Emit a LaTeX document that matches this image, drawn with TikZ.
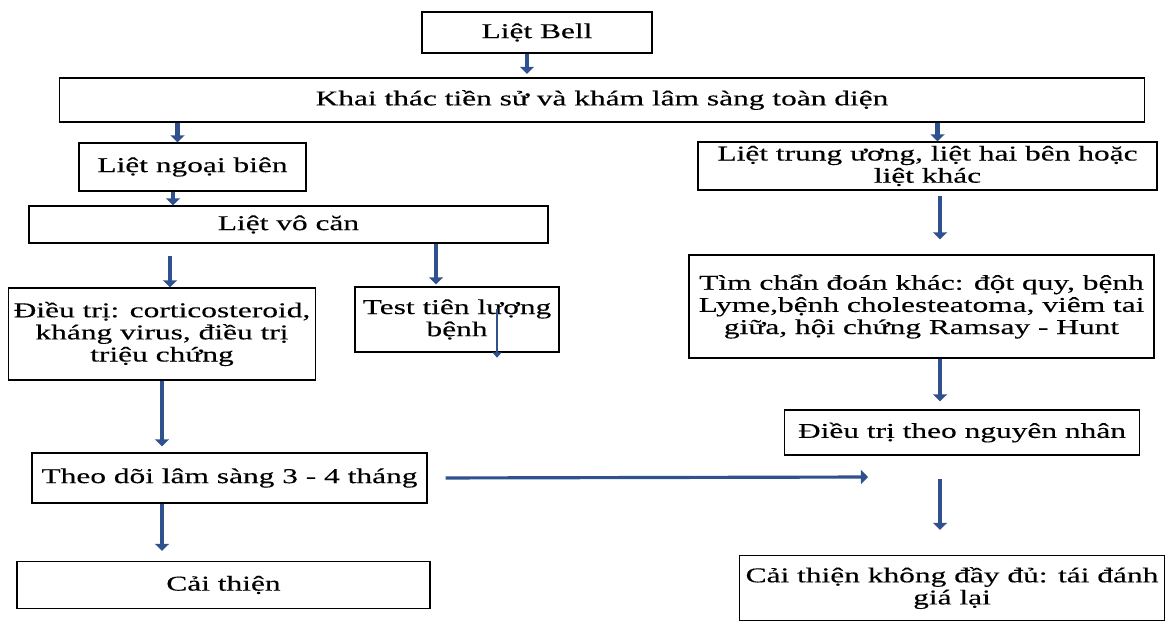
\documentclass[tikz,border=0pt]{standalone}
\usepackage{fontspec}
\setmainfont{Liberation Serif}[FakeStretch=1.49,FakeBold=0.3]
\usetikzlibrary{arrows.meta}
\definecolor{arrblue}{RGB}{47,82,143}

\begin{document}
\begin{tikzpicture}[x=0.02cm,y=-0.02cm,
	box/.style={draw,line width=0.8pt,align=center,inner sep=1pt,
		font=\fontsize{12}{12.6}\selectfont},
	arr/.style={draw=arrblue,line width=2.5pt,-{Triangle[width=8pt,length=4pt]}},
	thinarr/.style={draw=arrblue,line width=1.3pt,-{Triangle[width=5pt,length=3pt]}}]
	% Frame of the whole page, so the picture keeps its proportions.
	\useasboundingbox (0,0) rectangle (1172,623);
	% The boxes sit at fixed coordinates, one per step of the chart.
	\node[box,minimum width=4.6cm,minimum height=0.82cm] (bell) at (537,32.5) {Liệt Bell};
	\node[box,minimum width=21.7cm,minimum height=0.88cm] (khaithac) at (602,100)
		{Khai thác tiền sử và khám lâm sàng toàn diện};
	\node[box,minimum width=4.54cm,minimum height=0.96cm] (ngoai) at (192.5,167) {Liệt ngoại biên};
	\node[box,minimum width=9.18cm,minimum height=0.96cm] (trung) at (927.5,166)
		{Liệt trung ương, liệt hai bên hoặc\\liệt khác};
	\node[box,minimum width=10.38cm,minimum height=0.74cm] (vocan) at (288.5,224.5) {Liệt vô căn};
	\node[box,minimum width=6.14cm,minimum height=1.84cm] (dieutri) at (162,334)
		{Điều trị: corticosteroid,\\kháng virus, điều trị\\triệu chứng};
	\node[box,minimum width=4.08cm,minimum height=1.3cm] (test) at (457,319.5)
		{Test tiên lượng\\bệnh};
	\node[box,minimum width=9.3cm,minimum height=2.06cm] (timcd) at (921.5,306.5)
		{Tìm chẩn đoán khác: đột quy, bệnh\\Lyme,bệnh cholesteatoma, viêm tai\\giữa, hội chứng Ramsay - Hunt};
	\node[box,minimum width=7.1cm,minimum height=0.9cm] (nguyennhan) at (962,432.5)
		{Điều trị theo nguyên nhân};
	\node[box,minimum width=7.9cm,minimum height=1cm] (theodoi) at (229.5,478)
		{Theo dõi lâm sàng 3 - 4 tháng};
	\node[box,minimum width=8.26cm,minimum height=0.94cm] (caithien) at (223.5,585) {Cải thiện};
	\node[box,minimum width=8.5cm,minimum height=1.3cm] (khongdu) at (952,588)
		{Cải thiện không đầy đủ: tái đánh\\giá lại};
	\coordinate (huong) at (868,477);
	% Block arrows between the steps; most of them stop short of the boxes.
	\draw[arr,shorten >=2pt] ([xshift=-0.2cm]bell.south) -- ([xshift=-0.2cm]bell.south |- khaithac.north);
	\draw[arr] ([xshift=-0.3cm]ngoai.north |- khaithac.south) -- ([xshift=-0.3cm]ngoai.north);
	\draw[arr] ([xshift=0.2cm]trung.north |- khaithac.south) -- ([xshift=0.2cm]trung.north);
	\draw[arr] ([xshift=-0.39cm]ngoai.south) -- ([xshift=-0.39cm]ngoai.south |- vocan.north);
	\draw[arr,shorten <=0.1cm,shorten >=0.3cm] ([xshift=0.25cm]trung.south) -- ([xshift=0.25cm]trung.south |- timcd.north);
	\draw[arr,shorten <=0.24cm] ([xshift=0.16cm]dieutri.north |- vocan.south) -- ([xshift=0.16cm]dieutri.north);
	\draw[arr,shorten >=0.04cm] ([xshift=-0.42cm]test.north |- vocan.south) -- ([xshift=-0.42cm]test.north);
	\draw[thinarr] ([xshift=0.8cm,yshift=0.22cm]test.center) -- ([xshift=0.8cm,yshift=-0.1cm]test.south);
	\draw[arr,shorten >=0.12cm] (dieutri.south) -- (dieutri.south |- theodoi.north);
	\draw[arr,shorten >=0.2cm] (dieutri.south |- theodoi.south) -- (dieutri.south |- caithien.north);
	\draw[arr,line width=1.8pt,shorten <=0.36cm] (theodoi.east) -- (huong);
	\draw[arr,shorten >=0.16cm] ([xshift=-0.44cm]nguyennhan.north |- timcd.south) -- ([xshift=-0.44cm]nguyennhan.north);
	\draw[arr,shorten <=0.46cm,shorten >=0.5cm] ([xshift=-0.44cm]nguyennhan.south) -- ([xshift=-0.44cm]nguyennhan.south |- khongdu.north);
\end{tikzpicture}
\end{document}
